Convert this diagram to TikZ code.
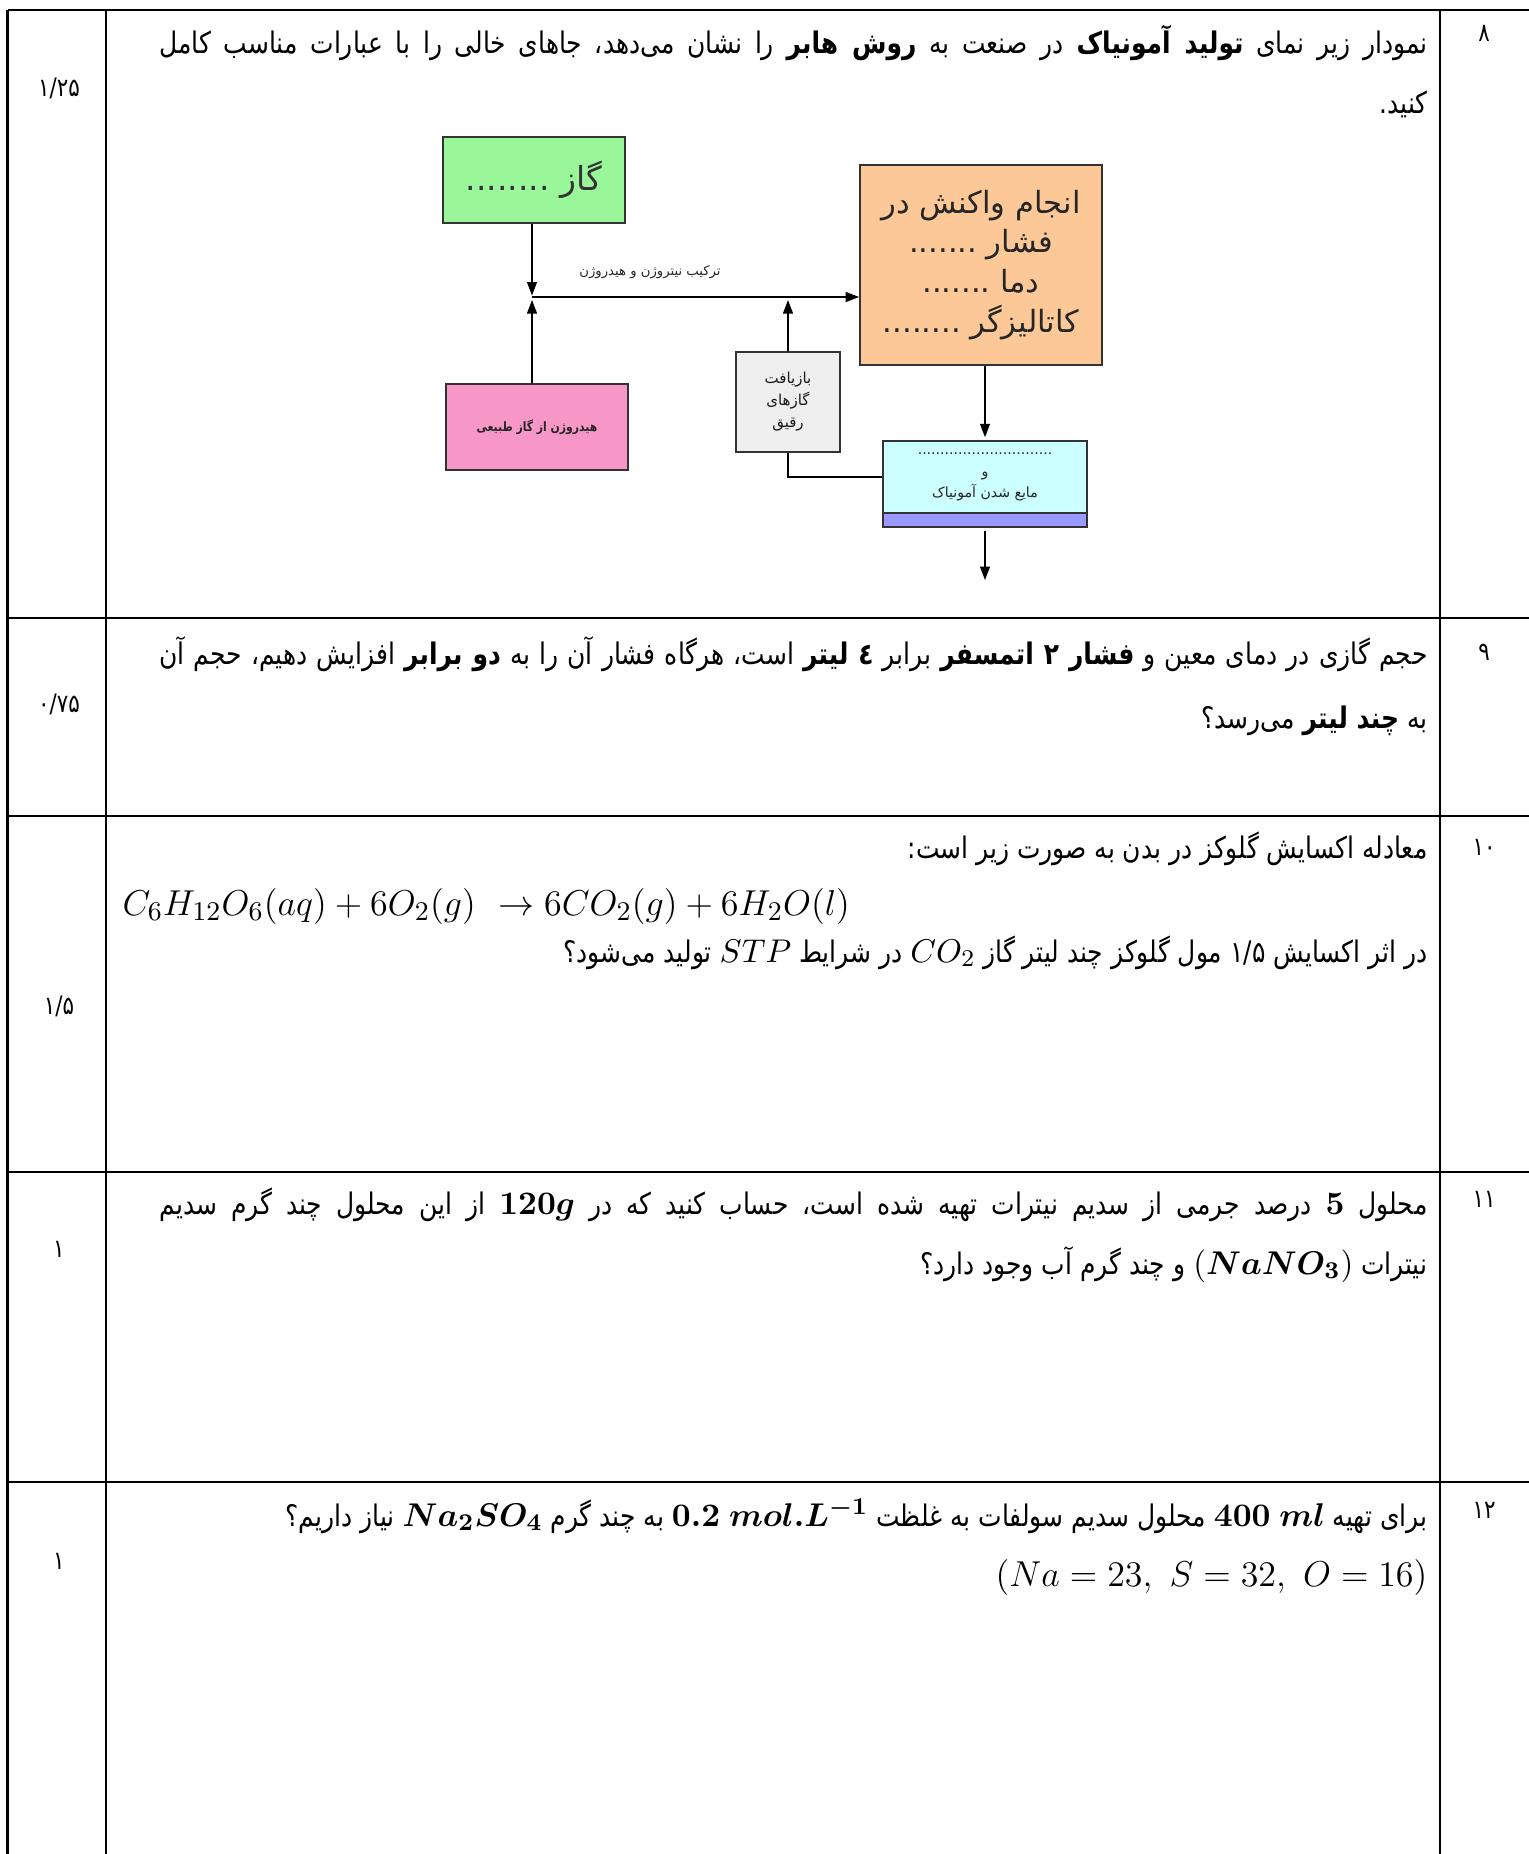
\documentclass[tikz,border=0pt]{standalone}
\usepackage{amsmath}
\usepackage{xcolor}
\usepackage{tikz}
\usepackage{amssymb}
\usepackage{fontspec}
\usetikzlibrary{arrows.meta}
\TeXXeTstate=1
\newfontfamily\persianfont[Script=Arabic,FakeStretch=0.84]{DejaVu Sans}
\newfontfamily\diagfont[Script=Arabic]{DejaVu Sans}
\newcommand{\fa}[1]{{\persianfont\beginR #1\endR}}
\newcommand{\dfa}[1]{{\diagfont\beginR #1\endR}}
\newcommand{\mth}[1]{\mbox{\fontsize{11}{12}\selectfont$#1$}}
\definecolor{gasgreen}{HTML}{99F799}
\definecolor{reactorange}{HTML}{FCC897}
\definecolor{hydropink}{HTML}{F797C7}
\definecolor{recyclegray}{HTML}{EEEEEE}
\definecolor{coolcyan}{HTML}{CCFFFF}
\definecolor{bandblue}{HTML}{9999FF}

\begin{document}
\begin{tikzpicture}[x=0.3333pt,y=-0.3333pt,
  rowrule/.style={line width=0.9pt},
  colrule/.style={line width=0.8pt},
  box/.style={draw=black!80,line width=0.5pt},
  flow/.style={line width=0.5pt,-{Triangle[length=4.5pt,width=3.3pt]}},
  body/.style={font=\fontsize{9.9}{12}\selectfont},
  num/.style={font=\persianfont\fontsize{8.5}{10}\selectfont},
  tiny/.style={font=\fontsize{4.7}{6.6}\selectfont,text=black!85}]
\tikzstyle{every node}+=[inner sep=0pt]
\useasboundingbox (0,0) rectangle (1529,1854);

\draw [rowrule] (7.5,10) -- (1529,10);
\draw [rowrule] (7.5,618) -- (1529,618);
\draw [rowrule] (7.5,816) -- (1529,816);
\draw [rowrule] (7.5,1172) -- (1529,1172);
\draw [rowrule] (7.5,1482) -- (1529,1482);
\foreach \x in {7.5,106,1440}
  \draw [colrule] (\x,10) -- (\x,1854);

\node [num] (q8) at (1484,33) {۸};
\node [num] (q9) at (1484,652) {۹};
\node [num] (q10) at (1484,847) {۱۰};
\node [num] (q11) at (1484,1199) {۱۱};
\node [num] (q12) at (1484,1510) {۱۲};
\node [num] (p8) at (59,88) {\fa{۱/۲۵}};
\node [num] (p9) at (59,704) {\fa{۰/۷۵}};
\node [num] (p10) at (59,1006) {\fa{۱/۵}};
\node [num] (p11) at (59,1249) {۱};
\node [num] (p12) at (59,1561) {۱};

\node [body,anchor=base east] (t8a) at (1428,53) {\makebox[422.6pt][s]{\fa{نمودار زیر نمای \textbf{تولید آمونیاک} در صنعت به \textbf{روش هابر} را نشان می^^^^200cدهد، جاهای خالی را با عبارات مناسب کامل}}};
\node [body,anchor=base east] (t8b) at (1428,113) {\fa{کنید.}};

\node [body,anchor=base east] (t9a) at (1428,664) {\makebox[422.6pt][s]{\fa{حجم گازی در دمای معین و \textbf{فشار ۲ اتمسفر} برابر \textbf{٤ لیتر} است، هرگاه فشار آن را به \textbf{دو برابر} افزایش دهیم، حجم آن}}};
\node [body,anchor=base east] (t9b) at (1428,728) {\fa{به \textbf{چند لیتر} می^^^^200cرسد؟}};

\node [body,anchor=base east] (t10a) at (1428,858) {\fa{معادله اکسایش گلوکز در بدن به صورت زیر است:}};
\node [anchor=base west,font=\fontsize{12.7}{14}\selectfont] (eq10) at (122,915) {$C_6H_{12}O_6(aq)+6O_2(g)\ \rightarrow 6CO_2(g)+6H_2O(l)$};
\node [body,anchor=base east] (t10b) at (1428,962) {\fa{در اثر اکسایش ۱/۵ مول گلوکز چند لیتر گاز \mth{CO_2} در شرایط \mth{STP} تولید می^^^^200cشود؟}};

\node [body,anchor=base east] (t11a) at (1428,1214) {\makebox[422.6pt][s]{\fa{محلول \mth{\boldsymbol{5}} درصد جرمی از سدیم نیترات تهیه شده است، حساب کنید که در \mth{\boldsymbol{120g}} از این محلول چند گرم سدیم}}};
\node [body,anchor=base east] (t11b) at (1428,1274) {\fa{نیترات \mth{(\boldsymbol{NaNO_3})} و چند گرم آب وجود دارد؟}};

\node [body,anchor=base east] (t12a) at (1428,1526) {\fa{برای تهیه \mth{\boldsymbol{400\ ml}} محلول سدیم سولفات به غلظت \mth{\boldsymbol{0.2\ mol.L^{-1}}} به چند گرم \mth{\boldsymbol{Na_2SO_4}} نیاز داریم؟}};
\node [anchor=base east,font=\fontsize{11.5}{13}\selectfont] (t12b) at (1428,1586) {$(Na=23,\ S=32,\ O=16)$};

\node [box,fill=gasgreen,minimum width=60.7pt,minimum height=28.7pt,font=\fontsize{11}{13}\selectfont,text=black!80] (gas) at (534,180) {\dfa{گاز ........}};
\node [box,fill=reactorange,minimum width=80.7pt,minimum height=66.7pt,align=center,font=\fontsize{10.2}{13.3}\selectfont,text=black!85] (reactor) at (981,265) {\dfa{انجام واکنش در}\\\dfa{فشار .......}\\\dfa{دما .......}\\\dfa{کاتالیزگر ........}};
\node [box,fill=hydropink,minimum width=60.7pt,minimum height=28.7pt,font=\bfseries\fontsize{4.3}{6}\selectfont,text=black!85] (hydrogen) at (537,427) {\fa{هیدروژن از گاز طبیعی}};
\node [box,fill=recyclegray,minimum width=34.7pt,minimum height=33.3pt,align=center,font=\fontsize{5}{7.3}\selectfont,text=black!90] (recycle) at (788,402) {\dfa{بازیافت}\\\dfa{گازهای}\\\dfa{رقیق}};
\node [box,fill=coolcyan,minimum width=68pt,minimum height=24pt,tiny,align=center,font=\fontsize{4.7}{7.2}\selectfont] (cooler) at (985,477) {\dfa{..............................}\\\dfa{و}\\\dfa{مایع شدن آمونیاک}};
\node [box,fill=bandblue,minimum width=68pt,minimum height=4.7pt] (band) at (985,520) {};
\node [tiny,font=\fontsize{4.4}{6}\selectfont] (mixlabel) at (650,272) {\dfa{ترکیب نیتروژن و هیدروژن}};

\coordinate (mix) at (532,297);
\coordinate (product) at (985,580);
\draw [flow,shorten >=0.5pt] (mix |- gas.south) -- (mix);
\draw [flow,shorten >=1pt] (mix |- hydrogen.north) -- (mix);
\draw [flow] (mix) -- (mix -| reactor.west);
\draw [flow,shorten >=1pt] (recycle.north) -- (recycle.north |- mix);
\draw [line width=0.5pt] (recycle.south) |- (cooler.west);
\draw [flow,shorten >=1pt] (cooler.north |- reactor.south) -- (cooler.north);
\draw [flow] ([yshift=-1pt]band.south) -- (product);
\end{tikzpicture}
\end{document}
